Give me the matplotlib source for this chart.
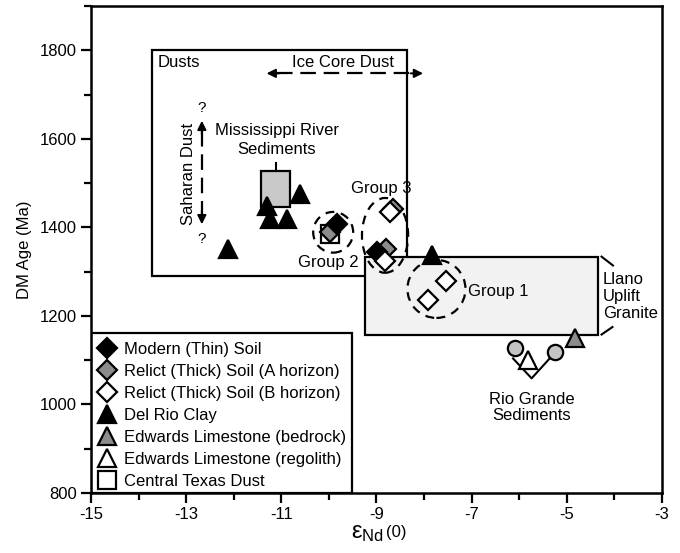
import matplotlib
matplotlib.use("Agg")
import matplotlib.pyplot as plt
from matplotlib.patches import Rectangle, Ellipse
from matplotlib.ticker import MultipleLocator

plt.rcParams["font.family"] = ["Liberation Sans", "DejaVu Sans"]
plt.rcParams["font.size"] = 12
plt.rcParams["axes.unicode_minus"] = False
plt.rcParams["mathtext.fontset"] = "custom"
plt.rcParams["mathtext.rm"] = "Liberation Sans"
plt.rcParams["mathtext.it"] = "Liberation Sans"

# eNd(0) and DM age values
modern_x = [-9.84, -8.98]
modern_y = [1408, 1344]
relict_a_x = [-8.66, -9.98, -8.80]
relict_a_y = [1441, 1389, 1352]
relict_b_x = [-8.72, -8.82, -7.91, -7.53]
relict_b_y = [1434, 1325, 1237, 1278]
delrio_x = [-10.61, -11.31, -11.24, -10.89, -12.12, -7.84]
delrio_y = [1476, 1449, 1420, 1420, 1352, 1337]
edw_bed_x = [-4.82]
edw_bed_y = [1150]
edw_reg_x = [-5.81]
edw_reg_y = [1100]
ctx_dust_x = [-9.98]
ctx_dust_y = [1385]
rio_x = [-6.09, -5.25]
rio_y = [1128, 1119]

# field boxes (x0, x1, y0, y1)
dusts_box = (-13.72, -8.36, 1290, 1800)
llano_box = (-9.24, -4.34, 1158, 1334)
miss_box = (-11.43, -10.81, 1446, 1528)
legend_box = (-15, -9.51, 800, 1162)

fig = plt.figure(figsize=(6.8, 5.53), dpi=100)
ax = fig.add_axes([0.1338, 0.1085, 0.8397, 0.8805])
ax.set_xlim(-15, -3)
ax.set_ylim(800, 1900)

def box(b, fc, z, lw=1.6):
    ax.add_patch(Rectangle((b[0], b[2]), b[1] - b[0], b[3] - b[2],
                           facecolor=fc, edgecolor="black", lw=lw, zorder=z))

box(dusts_box, "none", 2)
box(llano_box, "#f2f2f2", 3)
box(miss_box, "#c8c8c8", 3)
ax.plot([-11.12, -11.12], [1528, 1546], color="black", lw=1.5, zorder=3)
box(legend_box, "white", 2)

# dashed group outlines
dash = dict(fill=False, edgecolor="black", lw=1.6, linestyle=(0, (4, 3)), zorder=4)
ax.add_patch(Ellipse((-9.91, 1389), 0.84, 92, **dash))
ax.add_patch(Ellipse((-8.82, 1382), 0.97, 169, **dash))
ax.add_patch(Ellipse((-7.74, 1261), 1.22, 131, **dash))

mk = dict(linestyle="none", markeredgecolor="black", markeredgewidth=1.6)
h_ctx, = ax.plot(ctx_dust_x, ctx_dust_y, marker="s", ms=13, markerfacecolor="white",
                 label="Central Texas Dust", zorder=5, **mk)
h_ra, = ax.plot(relict_a_x, relict_a_y, marker="D", ms=10, markerfacecolor="#8c8c8c",
                label="Relict (Thick) Soil (A horizon)", zorder=6, **mk)
h_mod, = ax.plot(modern_x, modern_y, marker="D", ms=10, markerfacecolor="black",
                 label="Modern (Thin) Soil", zorder=7, **mk)
h_rb, = ax.plot(relict_b_x, relict_b_y, marker="D", ms=10, markerfacecolor="white",
                label="Relict (Thick) Soil (B horizon)", zorder=8, **mk)
h_dr, = ax.plot(delrio_x, delrio_y, marker="^", ms=13, markerfacecolor="black",
                label="Del Rio Clay", zorder=6, **mk)
h_eb, = ax.plot(edw_bed_x, edw_bed_y, marker="^", ms=13, markerfacecolor="#8c8c8c",
                label="Edwards Limestone (bedrock)", zorder=6, **mk)
h_er, = ax.plot(edw_reg_x, edw_reg_y, marker="^", ms=13, markerfacecolor="white",
                label="Edwards Limestone (regolith)", zorder=6, **mk)
ax.plot(rio_x, rio_y, marker="o", ms=11, markerfacecolor="#c4c4c4", zorder=6, **mk)

# Rio Grande bracket
ax.plot([-6.13, -5.74, -5.36], [1104, 1059, 1104], color="black", lw=1.5, zorder=5)
# Llano bracket strokes
ax.plot([-4.27, -4.03], [1334, 1314], color="black", lw=1.5)
ax.plot([-4.27, -4.04], [1158, 1175], color="black", lw=1.5)

# ice core and saharan dust ranges
ad = dict(color="black", lw=1.6, dashes=(7, 3.5), zorder=3)
ax.plot([-11.1, -8.23], [1748, 1748], **ad)
ax.plot([-12.67, -12.67], [1618, 1430], **ad)
head = dict(arrowstyle="-|>", color="black", lw=1.4, mutation_scale=13, shrinkA=0, shrinkB=0)
ax.annotate("", xy=(-11.31, 1748), xytext=(-11.05, 1748), arrowprops=head)
ax.annotate("", xy=(-8.02, 1748), xytext=(-8.28, 1748), arrowprops=head)
ax.annotate("", xy=(-12.67, 1641), xytext=(-12.67, 1610), arrowprops=head)
ax.annotate("", xy=(-12.67, 1407), xytext=(-12.67, 1438), arrowprops=head)
ax.text(-12.67, 1670, "?", ha="center", va="center", fontsize=11)
ax.text(-12.67, 1374, "?", ha="center", va="center", fontsize=11)
ax.text(-12.96, 1521, "Saharan Dust", rotation=90, ha="center", va="center")

ax.text(-13.59, 1772, "Dusts", ha="left", va="center")
ax.text(-9.70, 1772, "Ice Core Dust", ha="center", va="center")
ax.text(-11.10, 1598, "Mississippi River\nSediments", ha="center", va="center",
        linespacing=1.32)
ax.text(-10.02, 1321, "Group 2", ha="center", va="center", zorder=1)
ax.text(-8.89, 1488, "Group 3", ha="center", va="center", zorder=1)
ax.text(-7.08, 1256, "Group 1", ha="left", va="center")
ax.text(-4.24, 1244, "Llano\nUplift\nGranite", ha="left", va="center", linespacing=1.2)
ax.text(-5.74, 993, "Rio Grande\nSediments", ha="center", va="center", linespacing=1.15)

leg = ax.legend(handles=[h_mod, h_ra, h_rb, h_dr, h_eb, h_er, h_ctx],
                loc="upper left", bbox_to_anchor=(-14.83, 1142), bbox_transform=ax.transData,
                frameon=False, borderpad=0.0, borderaxespad=0.0, handlelength=1.0,
                handletextpad=0.5, labelspacing=0.42, markerscale=1.0, fontsize=12)
leg.set_zorder(9)

ax.xaxis.set_major_locator(MultipleLocator(2))
ax.xaxis.set_minor_locator(MultipleLocator(1))
ax.yaxis.set_major_locator(MultipleLocator(200))
ax.yaxis.set_minor_locator(MultipleLocator(100))
ax.set_xticks(range(-15, -2, 2))
ax.tick_params(which="major", direction="out", length=7, width=1.6, pad=3)
ax.tick_params(which="minor", direction="out", length=5, width=1.6)
for s in ax.spines.values():
    s.set_linewidth(1.8)

ax.set_ylabel("DM Age (Ma)", labelpad=6)
ax.set_xlabel(r"$\varepsilon_{\mathrm{Nd}}$", fontsize=17, labelpad=0)
ax.xaxis.label.set_x(0.484)
ax.annotate("(0)", xy=(1, 0.5), xycoords=ax.xaxis.label, xytext=(1.5, 0.5),
            textcoords="offset points", ha="left", va="center", fontsize=12)

fig.savefig("out.png", dpi=100)
